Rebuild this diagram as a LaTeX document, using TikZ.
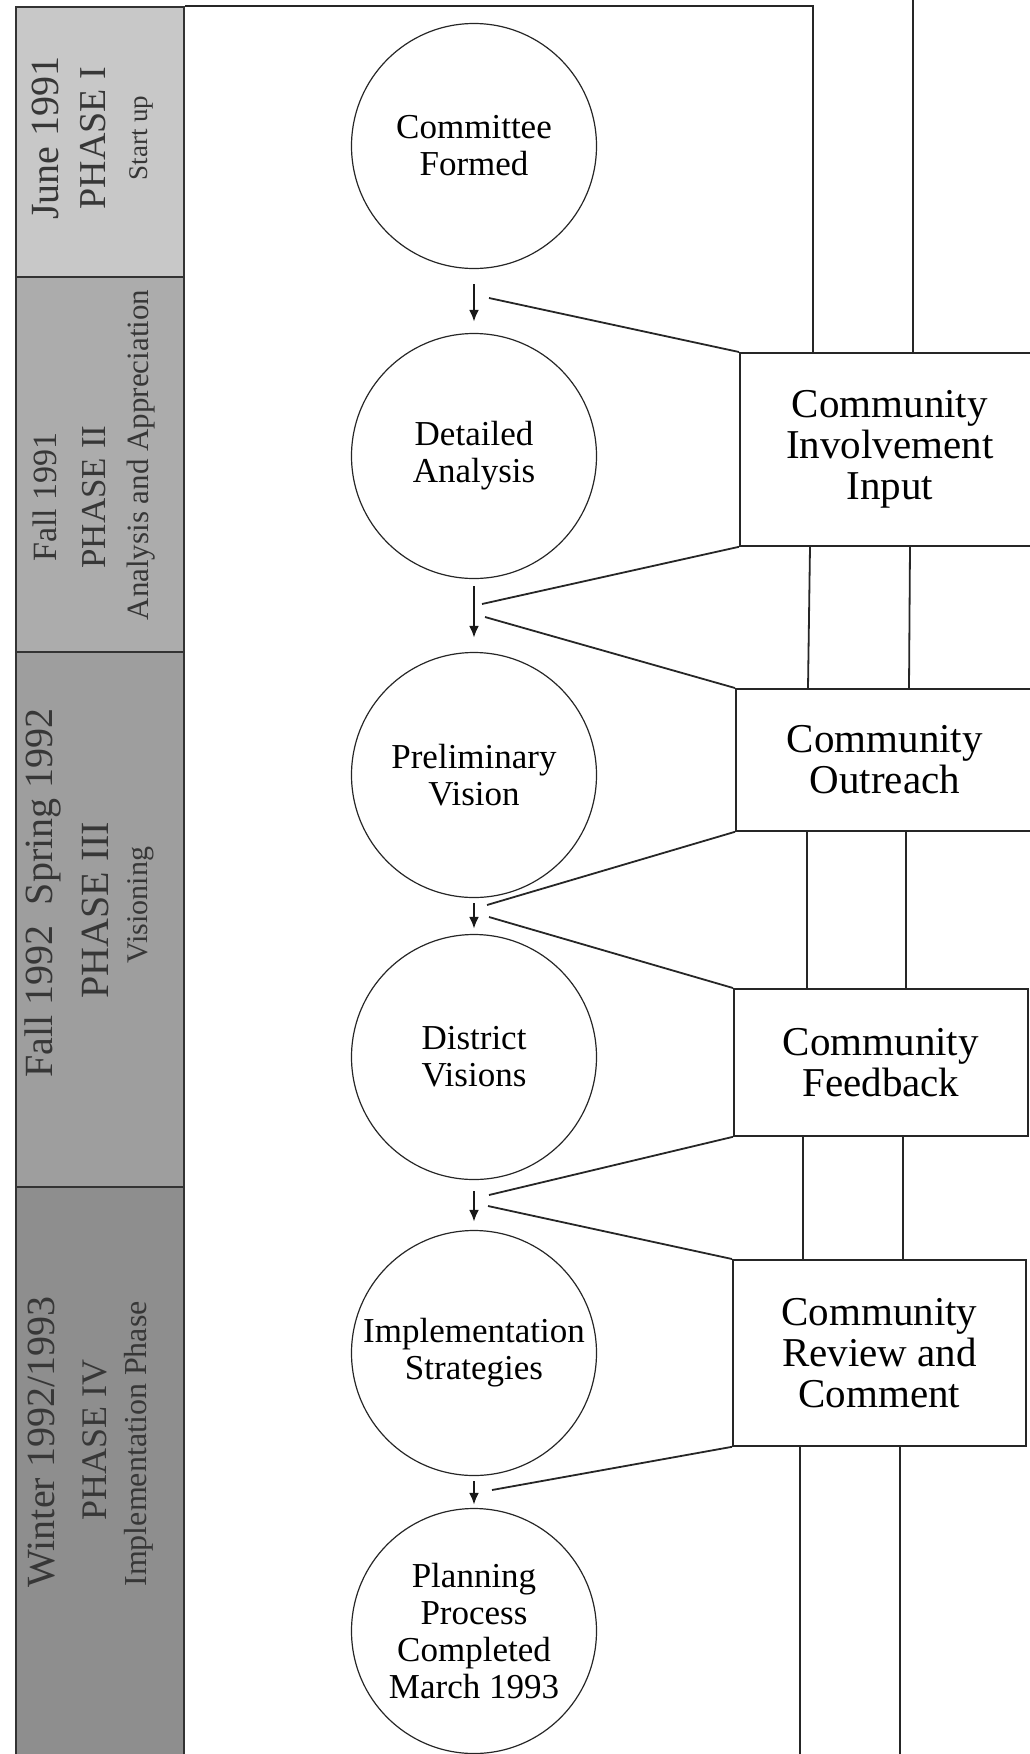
\documentclass[tikz,border=0pt]{standalone}
\usepackage{fontspec}
\setmainfont{Liberation Serif}
\usetikzlibrary{arrows.meta, positioning, calc}
\definecolor{phaseone}{RGB}{200,200,200}
\definecolor{phasetwo}{RGB}{172,172,172}
\definecolor{phasethree}{RGB}{158,158,158}
\definecolor{phasefour}{RGB}{142,142,142}
\definecolor{phaseink}{RGB}{55,55,55}

\begin{document}
\begin{tikzpicture}[
        x=1pt, y=-1pt,
        band/.style={
            rectangle,
            draw=black!80,
            line width=2pt,
            minimum width=168pt,
            anchor=north west,
            inner sep=0pt
        },
        bigline/.style={
            rotate=90,
            text=phaseink,
            inner sep=0pt,
            font=\fontsize{40}{40}\selectfont
        },
        smallline/.style={
            rotate=90,
            text=phaseink,
            inner sep=0pt,
            font=\fontsize{30}{30}\selectfont
        },
        stage/.style={
            circle,
            draw=black!85,
            line width=1.2pt,
            minimum size=245pt,
            inner sep=0pt,
            align=center,
            font=\fontsize{35}{37}\selectfont
        },
        input/.style={
            rectangle,
            draw=black!85,
            line width=1.8pt,
            anchor=north west,
            align=center,
            font=\fontsize{41}{41}\selectfont
        },
        flow/.style={
            -{Latex[length=12pt, width=10pt]},
            line width=2.4pt,
            draw=black!90
        },
        link/.style={
            line width=1.8pt,
            draw=black!85
        }
    ]
        \useasboundingbox (0,0) rectangle (1029,1754);

        \node[band, fill=phaseone, minimum height=270pt] (band1) at (15,6) {};
        \node[band, fill=phasetwo, minimum height=375pt] (band2) at (15,276) {};
        \node[band, fill=phasethree, minimum height=535pt] (band3) at (15,651) {};
        \node[band, fill=phasefour, minimum height=570pt] (band4) at (15,1186) {};

        \node[bigline] (date1) at (45,138) {June 1991};
        \node[bigline, font=\fontsize{38}{38}\selectfont] (phase1) at (93,138) {PHASE I};
        \node[smallline, font=\fontsize{27}{27}\selectfont] (sub1) at (141,138) {Start up};

        \node[bigline, font=\fontsize{34}{34}\selectfont] (date2) at (45,497) {Fall 1991};
        \node[bigline, font=\fontsize{35}{35}\selectfont] (phase2) at (94,497) {PHASE II};
        \node[smallline, font=\fontsize{31}{31}\selectfont] (sub2) at (141,455) {Analysis and Appreciation};

        \node[bigline] (date3) at (43,893) {Fall 1992\ \ Spring 1992};
        \node[bigline] (phase3) at (95,910) {PHASE III};
        \node[smallline] (sub3) at (141,905) {Visioning};

        \node[bigline] (date4) at (42,1442) {Winter 1992/1993};
        \node[bigline, font=\fontsize{36}{36}\selectfont] (phase4) at (95,1440) {PHASE IV};
        \node[smallline, font=\fontsize{32}{32}\selectfont] (sub4) at (139,1444) {Implementation Phase};

        \node[stage] (s1) at (474,146) {Committee\\Formed};
        \node[stage] (s2) at (474,456) {Detailed\\Analysis};
        \node[stage] (s3) at (474,775) {Preliminary\\Vision};
        \node[stage] (s4) at (474,1057) {District\\Visions};
        \node[stage] (s5) at (474,1353) {Implementation\\Strategies};
        \node[stage] (s6) at (474,1631) {Planning\\Process\\Completed\\March 1993};

        \node[input, minimum width=300pt, minimum height=193pt] (inv) at (739,352) {Community\\Involvement\\Input};
        \node[input, minimum width=298pt, minimum height=142pt] (out) at (735,688) {Community\\Outreach};
        \node[input, minimum width=294pt, minimum height=147pt] (feed) at (733,988) {Community\\Feedback};
        \node[input, minimum width=293pt, minimum height=186pt] (rev) at (732,1259) {Community\\Review and\\Comment};

        \draw[flow] ($(s1.south)+(0,15)$) -- ($(s2.north)+(0,-11)$);
        \draw[flow] ($(s2.south)+(0,7)$) -- ($(s3.north)+(0,-14)$);
        \draw[flow] ($(s3.south)+(0,5)$) -- ($(s4.north)+(0,-5)$);
        \draw[flow] ($(s4.south)+(0,11)$) -- ($(s5.north)+(0,-8)$);
        \draw[flow] ($(s5.south)+(0,5)$) -- ($(s6.north)+(0,-3)$);

        \coordinate (j1) at (489,298);
        \coordinate (j2a) at (482,604);
        \coordinate (j2b) at (485,617);
        \coordinate (j3a) at (487,905);
        \coordinate (j3b) at (489,917);
        \coordinate (j4a) at (489,1195);
        \coordinate (j4b) at (488,1206);
        \coordinate (j5) at (492,1490);

        \draw[link] (j1) -- (inv.north west);
        \draw[link] (j2a) -- (inv.south west);
        \draw[link] (j2b) -- (out.north west);
        \draw[link] (j3a) -- (out.south west);
        \draw[link] (j3b) -- (feed.north west);
        \draw[link] (j4a) -- (feed.south west);
        \draw[link] (j4b) -- (rev.north west);
        \draw[link] (j5) -- (rev.south west);

        \coordinate (corner) at (813,6);
        \coordinate (topedge) at (913,0);
        \draw[link] (band1.north east) -- (corner) -- ($(inv.north west)+(74,0)$);
        \draw[link] (topedge) -- ($(inv.north west)+(174,0)$);
        \draw[link] ($(inv.south west)+(71,0)$) -- ($(out.north west)+(73,0)$);
        \draw[link] ($(inv.south west)+(171,0)$) -- ($(out.north west)+(174,0)$);
        \draw[link] ($(out.south west)+(72,0)$) -- ($(feed.north west)+(74,0)$);
        \draw[link] ($(out.south west)+(171,0)$) -- ($(feed.north west)+(173,0)$);
        \draw[link] ($(feed.south west)+(70,0)$) -- ($(rev.north west)+(71,0)$);
        \draw[link] ($(feed.south west)+(170,0)$) -- ($(rev.north west)+(171,0)$);
        \draw[link] ($(rev.south west)+(68,0)$) -- ++(0,310);
        \draw[link] ($(rev.south west)+(168,0)$) -- ++(0,310);
    \end{tikzpicture}
\end{document}
